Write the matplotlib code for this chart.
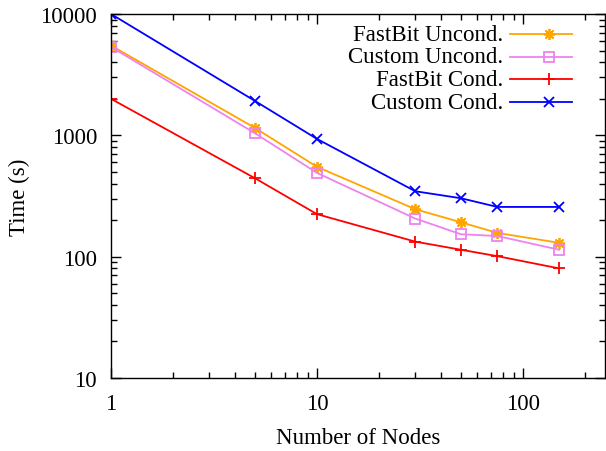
import matplotlib
matplotlib.use("Agg")
import matplotlib.pyplot as plt
from matplotlib.ticker import LogLocator, NullFormatter, FixedLocator, FixedFormatter

plt.rcParams["font.family"] = ["Liberation Serif", "DejaVu Serif"]

# node counts on the x axis
nodes = [1, 5, 10, 30, 50, 75, 150]

# run times in seconds
fastbit_uncond = [5500, 1150, 550, 246, 192, 157, 130]
custom_uncond = [5350, 1040, 490, 206, 153, 148, 114]
fastbit_cond = [2000, 443, 224, 133, 114, 101, 80]
custom_cond = [10000, 1920, 934, 346, 303, 257, 257]

labels = ["FastBit Uncond.", "Custom Uncond.", "FastBit Cond.", "Custom Cond."]
colors = ["#FFA500", "#EE82EE", "#FF0000", "#0000FF"]
markers = [(8, 2, 0), "s", "+", "x"]
msizes = [8, 7, 8, 7]

FS = 16.5

fig = plt.figure(figsize=(6.06, 4.52), dpi=100)
ax = fig.add_axes([111 / 606, 73 / 452, 494 / 606, 364 / 452])

series = [fastbit_uncond, custom_uncond, fastbit_cond, custom_cond]
for vals, c, m, ms in zip(series, colors, markers, msizes):
    ax.plot(nodes, vals, color=c, lw=1.3, marker=m, ms=ms, mew=1.3,
            mfc="none" if m == "s" else c)

ax.set_xscale("log")
ax.set_yscale("log")
ax.set_xlim(1, 250)
ax.set_ylim(10, 10000)

ax.xaxis.set_major_locator(FixedLocator([1, 10, 100]))
ax.xaxis.set_major_formatter(FixedFormatter(["1", "10", "100"]))
ax.xaxis.set_minor_locator(LogLocator(base=10, subs=range(2, 10)))
ax.xaxis.set_minor_formatter(NullFormatter())
ax.yaxis.set_major_locator(FixedLocator([10, 100, 1000, 10000]))
ax.yaxis.set_major_formatter(FixedFormatter(["10", "100", "1000", "10000"]))
ax.yaxis.set_minor_locator(LogLocator(base=10, subs=range(2, 10)))
ax.yaxis.set_minor_formatter(NullFormatter())

ax.tick_params(which="both", direction="in", top=True, right=True,
               labelsize=FS, width=1.0, color="black")
ax.tick_params(which="major", length=7)
ax.tick_params(which="minor", length=4)
ax.tick_params(axis="y", pad=10)
ax.tick_params(axis="x", pad=11)
for s in ax.spines.values():
    s.set_linewidth(1.0)

ax.set_xlabel("Number of Nodes", fontsize=FS, labelpad=9)
ax.set_ylabel("Time (s)", fontsize=FS, labelpad=7.5)

# gnuplot-style key: right-aligned text, sample line with point in its middle
key_y = [0.945, 0.882, 0.821, 0.758]
for lab, c, m, ms, ky in zip(labels, colors, markers, msizes, key_y):
    ax.text(0.7935, ky, lab, transform=ax.transAxes, ha="right", va="center",
            fontsize=FS)
    ax.plot([0.8077, 0.9332], [ky, ky], transform=ax.transAxes, color=c,
            lw=1.3, clip_on=False)
    ax.plot([0.8866], [ky], transform=ax.transAxes, color=c, marker=m,
            ms=ms, mew=1.3, mfc="none" if m == "s" else c, clip_on=False)

fig.savefig("out.png", dpi=100)
